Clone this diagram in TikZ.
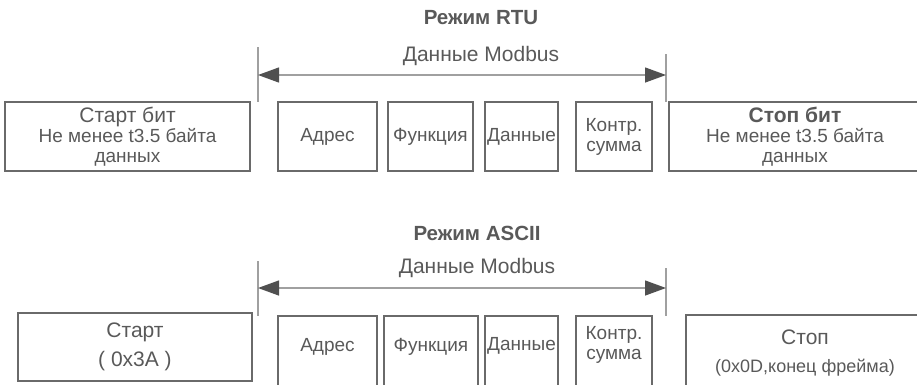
\documentclass[tikz,border=0pt]{standalone}
\usepackage{fontspec}
\setmainfont{Liberation Sans}
\usetikzlibrary{arrows.meta,positioning}
\definecolor{txtgray}{HTML}{595959}
\definecolor{boxgray}{HTML}{6A6A6A}
\definecolor{bargray}{HTML}{A0A0A0}
\definecolor{tipgray}{HTML}{505050}
\newcommand{\bigline}[1]{{\fontsize{21}{21}\selectfont #1}}

\begin{document}
\begin{tikzpicture}[x=1pt, y=-1pt,
    field/.style={rectangle, draw=boxgray, line width=1.2pt, text=txtgray, align=center, inner sep=0pt, font=\fontsize{19}{20}\selectfont},
    wide/.style={field, font=\fontsize{19}{20}\selectfont},
    caption/.style={text=txtgray, inner sep=0pt, font=\fontsize{21}{23}\selectfont},
    modetitle/.style={text=txtgray, inner sep=0pt, font=\bfseries\fontsize{20.5}{22}\selectfont},
    bar/.style={draw=bargray, line width=1.3pt},
    span/.style={draw=bargray, line width=1.3pt, {Triangle[length=21pt,width=15pt,color=tipgray]}-{Triangle[length=21pt,width=15pt,color=tipgray]}}
]
    \clip (0,0) rectangle (917,384);

    % RTU mode
    \node[modetitle] (rtu) at (481,18) {Режим RTU};
    \node[caption] (rtudata) at (481,56) {Данные Modbus};
    \coordinate (rtuL) at (258,47);
    \coordinate (rtuR) at (666,54);
    \coordinate (rtuLb) at (258,102);
    \coordinate (rtuRb) at (666,102);
    \draw[bar] (rtuL) -- (rtuLb);
    \draw[bar] (rtuR) -- (rtuRb);
    \draw[span] (rtuL |- 0,75) -- (rtuR |- 0,75);

    \node[wide, minimum width=245pt, minimum height=69pt] (rtustart) at (127.5,136.5)
        {\bigline{Старт бит}\\Не менее t3.5 байта\\данных};
    \node[field, minimum width=99pt, minimum height=69pt] (rtuaddr) at (327.5,136.5) {Адрес};
    \node[field, minimum width=85pt, minimum height=69pt] (rtufunc) at (430.5,136.5) {Функция};
    \node[field, minimum width=73pt, minimum height=69pt] (rtuvals) at (521.5,136.5) {Данные};
    \node[field, minimum width=76pt, minimum height=69pt] (rtucrc) at (614,136.5) {Контр.\\сумма};
    \node[wide, minimum width=252pt, minimum height=69pt] (rtustop) at (795,136.5)
        {\bigline{\bfseries Стоп бит}\\Не менее t3.5 байта\\данных};

    % ASCII mode
    \node[modetitle] (ascii) at (477,233) {Режим ASCII};
    \node[caption] (asciidata) at (477,268) {Данные Modbus};
    \coordinate (asciiL) at (258,261);
    \coordinate (asciiR) at (666,268);
    \coordinate (asciiLb) at (258,316);
    \coordinate (asciiRb) at (666,316);
    \draw[bar] (asciiL) -- (asciiLb);
    \draw[bar] (asciiR) -- (asciiRb);
    \draw[span] (asciiL |- 0,288) -- (asciiR |- 0,288);

    \node[field, minimum width=234pt, minimum height=68pt] (asciistart) at (135,347)
        {\bigline{Старт}\\[9pt]\bigline{( 0x3A )}};
    \node[field, minimum width=99pt, minimum height=90pt] (asciiaddr) at (327.5,361) {};
    \node[field, minimum width=94pt, minimum height=90pt] (asciifunc) at (431,361) {};
    \node[field, minimum width=73pt, minimum height=90pt] (asciivals) at (521.5,361) {};
    \node[field, minimum width=76pt, minimum height=90pt] (asciicrc) at (614,361) {};
    \node[field, minimum width=239pt, minimum height=90pt] (asciistop) at (805.5,360) {};

    \node[field, draw=none] (asciiaddr-t) at (327.5,347) {Адрес};
    \node[field, draw=none] (asciifunc-t) at (431,347) {Функция};
    \node[field, draw=none] (asciivals-t) at (521.5,346) {Данные};
    \node[field, draw=none] (asciicrc-t) at (614,345) {Контр.\\сумма};
    \node[field, draw=none] (asciistop-t) at (805,353)
        {\bigline{Стоп}\\[8pt]\fontsize{18}{20}\selectfont (0x0D,конец фрейма)};
\end{tikzpicture}
\end{document}
